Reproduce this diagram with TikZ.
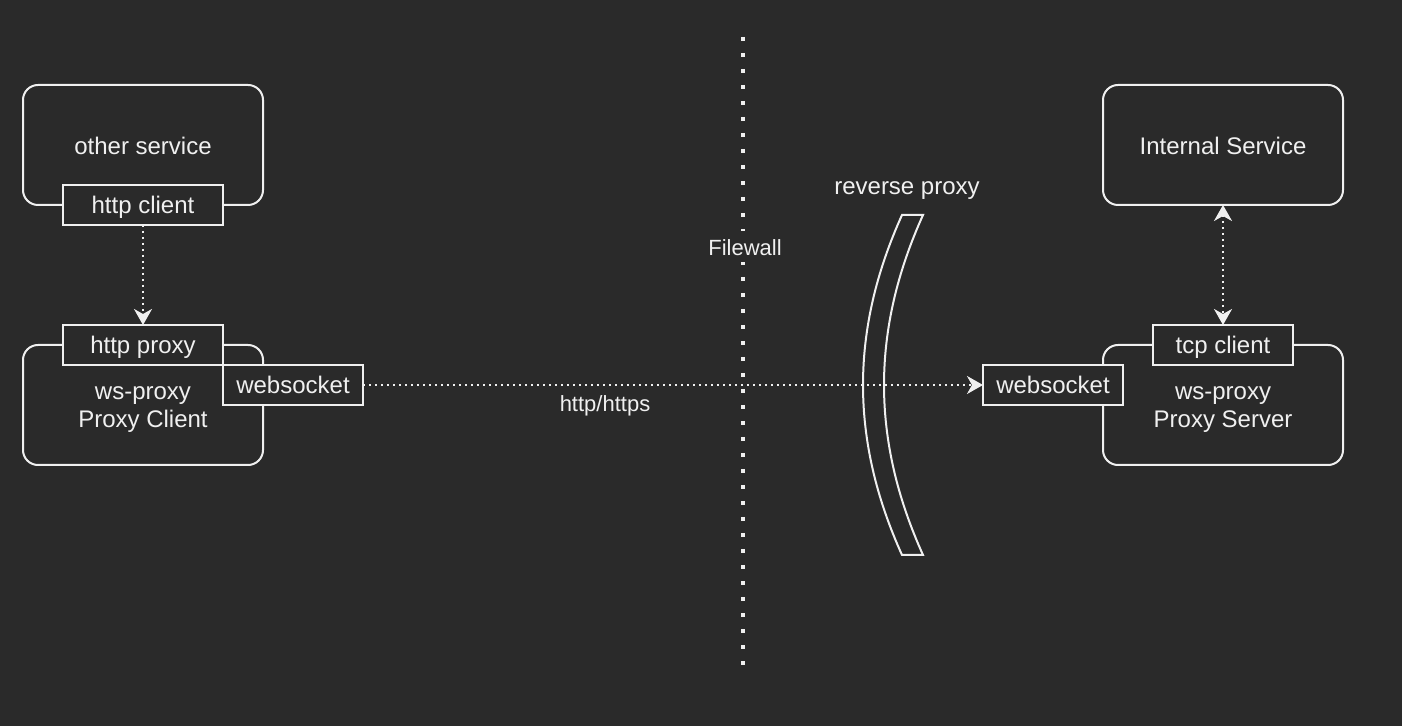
\documentclass[tikz,border=0pt]{standalone}
\usepackage{fontspec}
\setmainfont{Liberation Sans}
\usetikzlibrary{positioning,arrows.meta}
\definecolor{ColorBg}{HTML}{2A2A2A}
\definecolor{ColorFg}{HTML}{F0F0F0}

\begin{document}
\begin{tikzpicture}[
        x=0.5pt, y=-0.5pt,
        every node/.style={font=\fontsize{12}{14}\selectfont, text=ColorFg, text height=11pt, text depth=2.5pt},
        small/.style={font=\fontsize{11}{13}\selectfont},
        service/.style={draw=ColorFg, line width=1pt, fill=ColorBg, rounded corners=7.5pt, minimum width=120pt, minimum height=60pt, align=center, text height=12pt, outer sep=0pt},
        twolines/.style={text height=25pt},
        port/.style={draw=ColorFg, line width=1pt, fill=ColorBg, minimum height=20pt, inner sep=0pt, outer sep=0pt},
        link/.style={draw=ColorFg, line width=1pt, dotted, -{Stealth[length=8pt, width=9pt, inset=2.5pt]}},
        wall/.style={draw=ColorFg, line width=2pt, dash pattern=on 2pt off 6pt}]
    \useasboundingbox[fill=ColorBg] (0,0) rectangle (1402,726);
    % firewall
    \coordinate (walltop) at (743,37);
    \coordinate (wallbot) at (743,665);
    \draw[wall] (walltop) -- (wallbot);
    \node[small, fill=ColorBg, inner sep=1pt] (wall) at (745,247) {Filewall};
    % proxy client side
    \node[service] (other) at (143,145) {other service};
    \node[port, minimum width=80pt] (httpclient) at (other.south) {http client};
    \node[service, twolines] (client) at (143,405) {ws-proxy\\Proxy Client};
    \node[port, minimum width=80pt] (httpproxy) at (client.north) {http proxy};
    \node[port, minimum width=70pt, anchor=north west] (wsclient) at (httpproxy.south east) {websocket};
    % proxy server side
    \node[service] (internal) at (1223,145) {Internal Service};
    \node[service, twolines] (server) at (1223,405) {ws-proxy\\Proxy Server};
    \node[port, minimum width=70pt] (tcpclient) at (server.north) {tcp client};
    \node[port, minimum width=70pt] (wsserver) at (1053,385) {websocket};
    % reverse proxy
    \node (rplabel) at (907,186) {reverse proxy};
    \draw[ColorFg, line width=1pt] (902,215) -- (923,215)
        .. controls (871,330) and (871,440) .. (923,555) -- (902,555)
        .. controls (850,440) and (850,330) .. (902,215) -- cycle;
    % connectors
    \draw[link] (httpclient) -- (httpproxy);
    \draw[link] (wsclient) -- (wsserver);
    \node[small] (proto) at (605,403) {http/https};
    \draw[link, {Stealth[length=8pt, width=9pt, inset=2.5pt]}-{Stealth[length=8pt, width=9pt, inset=2.5pt]}] (internal) -- (tcpclient);
\end{tikzpicture}
\end{document}
